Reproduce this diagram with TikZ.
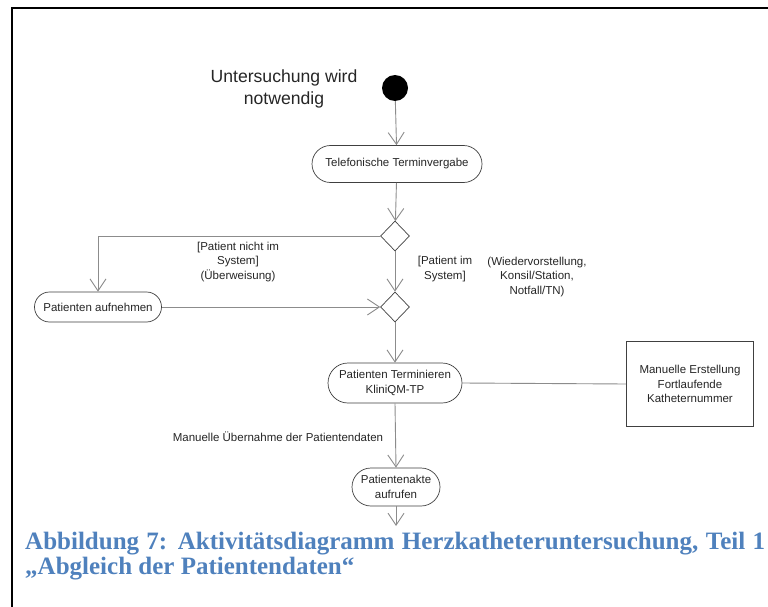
\documentclass[tikz,border=0pt]{standalone}
\usepackage{fontspec}
\setmainfont{Liberation Sans}
\newfontfamily\capfont{Liberation Serif}
\usetikzlibrary{shapes.geometric,shapes.misc,arrows.meta}
\definecolor{linegrey}{HTML}{8C8C8C}
\definecolor{bordergrey}{HTML}{404040}
\definecolor{txtgrey}{HTML}{262626}
\definecolor{capblue}{HTML}{4F81BD}
\tikzset{
  act/.style={rounded rectangle, draw=bordergrey, line width=0.7pt, inner sep=0pt, align=center, text=txtgrey, font=\fontsize{11.5}{14.5}\selectfont},
  dec/.style={diamond, draw=bordergrey, line width=0.7pt, inner sep=0pt, minimum width=29pt, minimum height=30pt},
  notebox/.style={rectangle, draw=bordergrey, line width=0.9pt, align=center, text=txtgrey, minimum width=127pt, minimum height=85pt, inner sep=0pt, font=\fontsize{11.5}{14.5}\selectfont},
  lbl/.style={align=center, text=txtgrey, inner sep=0pt, font=\fontsize{11.5}{14.5}\selectfont},
  arr/.style={draw=linegrey, line width=0.9pt, -{Straight Barb[length=12pt,width=16pt,line width=0.9pt]}},
  conn/.style={draw=linegrey, line width=0.9pt},
  captext/.style={anchor=base west, inner sep=0pt, text=capblue, font=\capfont\bfseries\fontsize{25}{23}\selectfont},
}
\begin{document}
\begin{tikzpicture}[x=1pt,y=-1pt]
\useasboundingbox (0,0) rectangle (768,607);
\fill[white] (0,0) rectangle (768,607);
% frame
\draw[line width=2pt] (12,607) -- (12,8) -- (768,8);
% nodes
\node[circle, fill=black, minimum size=26pt, inner sep=0pt] (start) at (395,88) {};
\node[align=center, text=txtgrey, inner sep=0pt, font=\fontsize{17.6}{21.5}\selectfont] (title) at (284,89) {Untersuchung wird\\notwendig};
\node[act, minimum width=170pt, minimum height=37pt] (tel) at (397,164) {Telefonische Terminvergabe};
\node[dec] (d1) at (395,236) {};
\node[dec] (d2) at (395,307) {};
\node[act, minimum width=127pt, minimum height=30pt] (pa) at (98,307) {Patienten aufnehmen};
\node[act, minimum width=134pt, minimum height=40pt] (pt) at (395,383) {Patienten Terminieren\\KliniQM-TP};
\node[notebox] (box) at (690,384) {Manuelle Erstellung\\Fortlaufende\\Katheternummer};
\node[act, minimum width=88pt, minimum height=38pt] (pak) at (396,487) {Patientenakte\\aufrufen};
\coordinate (endpt) at (396,526);
% labels
\node[lbl] (l1) at (238,262) {[Patient nicht im\\System]\\(Überweisung)};
\node[lbl] (l2) at (445,269) {[Patient im\\System]};
\node[lbl] (l3) at (537,277) {(Wiedervorstellung,\\Konsil/Station,\\Notfall/TN)};
\node[lbl] (l4) at (278,437) {Manuelle Übernahme der Patientendaten};
% connectors
\draw[arr] (start) -- (tel);
\draw[arr] (tel) -- (d1);
\draw[arr] (d1.west) -| (pa.north);
\draw[arr] (d1.south) -- (d2.north);
\draw[arr] (pa.east) -- (d2.west);
\draw[arr] (d2.south) -- (pt.north);
\draw[conn] (pt.east) -- (box.west);
\draw[arr] (pt.south) -- (pak.north);
\draw[arr] (pak.south) -- (endpt);
% caption
\node[captext] (cap1) at (25,549) {\makebox[740pt][s]{Abbildung 7: Aktivitätsdiagramm Herzkatheteruntersuchung, Teil 1}};
\node[captext] (cap2) at (25,574) {„Abgleich der Patientendaten“};
\end{tikzpicture}
\end{document}
